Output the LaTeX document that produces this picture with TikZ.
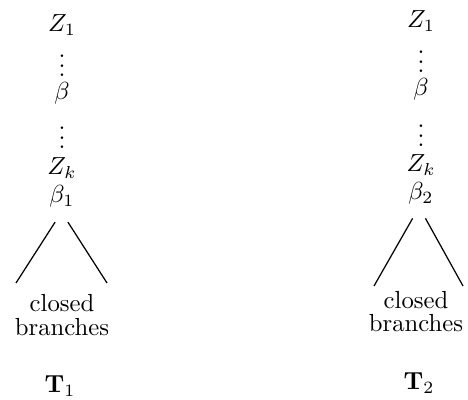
\documentclass[tikz,border=0pt]{standalone}
\usepackage{amsmath}
\tikzset{
  lbl/.style={inner sep=0pt, anchor=base},
  br/.style={line width=0.5pt}
}
\begin{document}
\begin{tikzpicture}[x=0.405pt,y=-0.405pt]
\useasboundingbox (0,0) rectangle (468,400);
% left tree
\node[lbl] (aZ1) at (62,32) {$Z_1$};
\node[lbl] (ad1) at (62,77) {$\vdots$};
\node[lbl] (ab)  at (62,100) {$\beta$};
\node[lbl] (ad2) at (62,149) {$\vdots$};
\node[lbl] (aZk) at (62,175) {$Z_k$};
\node[lbl] (ab1) at (62,203) {$\beta_1$};
\node[lbl] (ac)  at (62,312) {closed};
\node[lbl] (abr) at (62,336) {branches};
\node[lbl] (aT)  at (60,393) {$\mathbf{T}_1$};
\coordinate (al) at (16,283);
\coordinate (ar) at (107,283);
\draw[br] ([xshift=-2.8pt,yshift=-5.6pt]ab1.south) -- (al);
\draw[br] ([xshift=2.4pt,yshift=-5.6pt]ab1.south) -- (ar);
% right tree
\node[lbl] (bZ1) at (421,28) {$Z_1$};
\node[lbl] (bd1) at (421,73) {$\vdots$};
\node[lbl] (bb)  at (421,96) {$\beta$};
\node[lbl] (bd2) at (421,147) {$\vdots$};
\node[lbl] (bZk) at (421,172) {$Z_k$};
\node[lbl] (bb2) at (421,200) {$\beta_2$};
\node[lbl] (bc)  at (416,309) {closed};
\node[lbl] (bbr) at (416,332) {branches};
\node[lbl] (bT)  at (419,390) {$\mathbf{T}_2$};
\coordinate (bl) at (374,286);
\coordinate (brr) at (463,286);
\draw[br] ([xshift=-3.4pt,yshift=-5.3pt]bb2.south) -- (bl);
\draw[br] ([xshift=1.8pt,yshift=-5.3pt]bb2.south) -- (brr);
\end{tikzpicture}
\end{document}
